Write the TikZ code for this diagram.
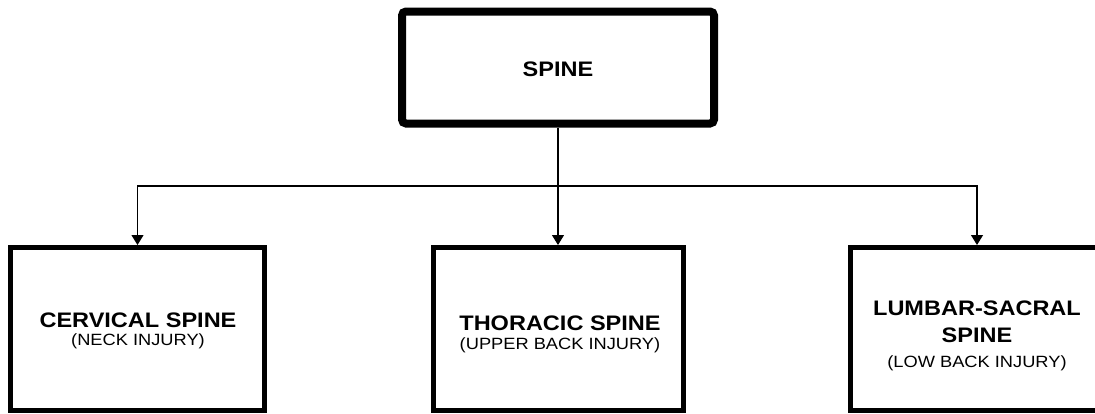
\documentclass[tikz,border=0pt]{standalone}
\usepackage{fontspec}
\setmainfont{Liberation Sans}
\usetikzlibrary{arrows.meta}
\newcommand\widetext[1]{\scalebox{1.12}[1]{#1}}
\tikzset{
  topbox/.style={draw, line width=8pt, rounded corners=4pt, minimum width=312pt, minimum height=112pt, inner sep=0pt},
  subbox/.style={draw, line width=5pt, minimum height=163pt, inner sep=0pt},
  conn/.style={line width=1.1pt},
  arr/.style={conn, -{Triangle[width=12pt,length=10pt]}},
  boldlbl/.style={anchor=base, inner sep=0pt, font=\fontsize{21}{24}\selectfont\bfseries},
  sublbl/.style={anchor=base, inner sep=0pt, font=\fontsize{16.3}{19}\selectfont},
}
\begin{document}
\begin{tikzpicture}[x=1pt, y=-1pt]
\useasboundingbox (0,0) rectangle (1095,413);
% boxes
\node[topbox] (top) at (558,67.5) {};
\node[subbox, minimum width=254pt] (b1) at (137.5,329) {};
\node[subbox, minimum width=250pt] (b2) at (558,329) {};
\node[subbox, minimum width=253.5pt] (b3) at (977,329) {};
% labels
\node[boldlbl] (t0) at (558,76) {\widetext{SPINE}};
\node[boldlbl] (t1) at (138,327) {\widetext{CERVICAL SPINE}};
\node[sublbl] (t1s) at (138,345) {\widetext{(NECK INJURY)}};
\node[boldlbl] (t2) at (560,330) {\widetext{THORACIC SPINE}};
\node[sublbl] (t2s) at (560,349) {\widetext{(UPPER BACK INJURY)}};
\node[boldlbl] (t3a) at (977,315) {\widetext{LUMBAR-SACRAL}};
\node[boldlbl] (t3b) at (977,342.5) {\widetext{SPINE}};
\node[sublbl] (t3s) at (977,367) {\widetext{(LOW BACK INJURY)}};
% connectors
\coordinate (bar) at (0,186);
\draw[arr] (top.south) -- (b2.north);
\draw[arr] (top.south |- bar) -| (b1.north);
\draw[arr] (top.south |- bar) -| (b3.north);
\end{tikzpicture}
\end{document}
